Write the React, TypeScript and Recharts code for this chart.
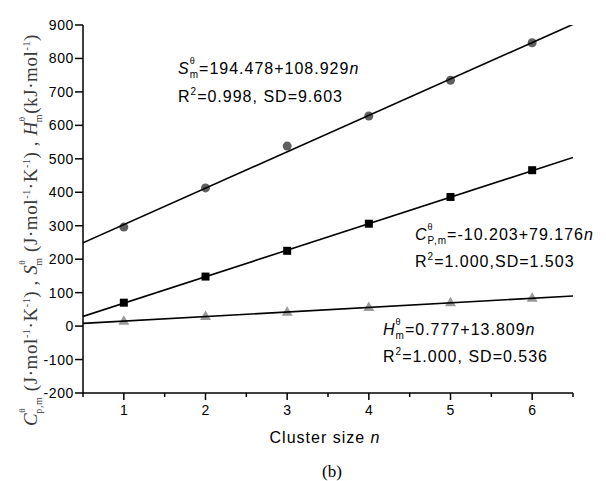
import React from 'react';
import { ComposedChart, Scatter, XAxis, YAxis } from 'recharts';

// cluster size n
const clusterSizes = [1, 2, 3, 4, 5, 6];
// S(θ,m) — grey circles
const entropyValues = [296, 413, 538, 628, 735, 847];
// Cp(θ,m) — black squares
const heatCapValues = [70, 148, 225, 306, 386, 466];
// H(θ,m) — light grey triangles
const enthalpyValues = [16, 30, 43, 57, 71, 85];

// fitted lines, read at both ends of the x range
const fitEnds = [0.5, 6.5];
const entropyFit = [249, 902];
const heatCapFit = [29, 504];
const enthalpyFit = [8, 90];

const xTicks = [0.5, 1, 1.5, 2, 2.5, 3, 3.5, 4, 4.5, 5, 5.5, 6, 6.5];
const yTicks = [-200, -150, -100, -50, 0, 50, 100, 150, 200, 250, 300, 350, 400, 450, 500, 550, 600, 650, 700, 750, 800, 850, 900];

const toPoints = (xs: number[], ys: number[]) => xs.map((n, i) => ({ n, v: ys[i] }));

const SANS = '"Liberation Sans", Arial, sans-serif';
const SERIF = '"Liberation Serif", "Times New Roman", serif';

const YTick = (props: any) => {
    const { x, y, payload } = props;
    const major = payload.value % 100 === 0;
    return (
        <g>
            <line x1={x} y1={y} x2={x - (major ? 8 : 4)} y2={y} stroke="#000" strokeWidth={1.5} />
            {major && (
                <text x={x - 9} y={y + 5} textAnchor="end" fontFamily={SANS} fontSize={14} letterSpacing={0.6} fill="#000">
                    {payload.value}
                </text>
            )}
        </g>
    );
};

const XTick = (props: any) => {
    const { x, y, payload } = props;
    const major = Number.isInteger(payload.value);
    return (
        <g>
            <line x1={x} y1={y} x2={x} y2={y + (major ? 7 : 4)} stroke="#000" strokeWidth={1.5} />
            {major && (
                <text x={x} y={y + 22} textAnchor="middle" fontFamily={SANS} fontSize={14} fill="#000">
                    {payload.value}
                </text>
            )}
        </g>
    );
};

const Circle = ({ cx, cy }: any) => <circle cx={cx} cy={cy} r={4.5} fill="#5f5f5f" />;
const Square = ({ cx, cy }: any) => <rect x={cx - 4} y={cy - 4} width={8} height={8} fill="#000" />;
const Triangle = ({ cx, cy }: any) => (
    <polygon points={`${cx},${cy - 5.5} ${cx - 5.5},${cy + 4} ${cx + 5.5},${cy + 4}`} fill="#9a9a9a" />
);
const NoMark = () => <g />;

const Annotations = () => (
    <svg width={606} height={481} style={{ position: 'absolute', left: 0, top: 0, pointerEvents: 'none' }}>
        {/* S fit */}
        <text x={178} y={74} fontFamily={SANS} fontSize={16} letterSpacing={1} fill="#000">
            <tspan fontStyle="italic">S</tspan>
            <tspan fontSize={9} dy={-10}>θ</tspan>
            <tspan fontSize={10} dx={-6} dy={14}>m</tspan>
            <tspan dy={-4}>=194.478+108.929</tspan>
            <tspan fontStyle="italic">n</tspan>
        </text>
        <text x={178} y={102} fontFamily={SANS} fontSize={16} letterSpacing={1} fill="#000">
            R<tspan fontSize={10} dy={-7}>2</tspan>
            <tspan dy={7}>=0.998, SD=9.603</tspan>
        </text>

        {/* Cp fit */}
        <text x={415} y={240} fontFamily={SANS} fontSize={16} letterSpacing={1} fill="#000">
            <tspan fontStyle="italic">C</tspan>
            <tspan fontSize={9} dy={-10}>θ</tspan>
            <tspan fontSize={10} dx={-6} dy={14}>P,m</tspan>
            <tspan dy={-4}>=-10.203+79.176</tspan>
            <tspan fontStyle="italic">n</tspan>
        </text>
        <text x={415} y={267} fontFamily={SANS} fontSize={16} letterSpacing={1} fill="#000">
            R<tspan fontSize={10} dy={-7}>2</tspan>
            <tspan dy={7}>=1.000,SD=1.503</tspan>
        </text>

        {/* H fit */}
        <text x={383} y={335} fontFamily={SANS} fontSize={16} letterSpacing={1} fill="#000">
            <tspan fontStyle="italic">H</tspan>
            <tspan fontSize={9} dy={-10}>θ</tspan>
            <tspan fontSize={10} dx={-6} dy={14}>m</tspan>
            <tspan dy={-4}>=0.777+13.809</tspan>
            <tspan fontStyle="italic">n</tspan>
        </text>
        <text x={383} y={362} fontFamily={SANS} fontSize={16} letterSpacing={1} fill="#000">
            R<tspan fontSize={10} dy={-7}>2</tspan>
            <tspan dy={7}>=1.000, SD=0.536</tspan>
        </text>

        {/* axis titles */}
        <text x={325} y={443} textAnchor="middle" fontFamily={SANS} fontSize={16} letterSpacing={1} fill="#000">
            Cluster size <tspan fontStyle="italic">n</tspan>
        </text>
        <text x={332} y={477} textAnchor="middle" fontFamily={SERIF} fontSize={17} fill="#000">(b)</text>

        <text transform="translate(37,230) rotate(-90)" textAnchor="middle" fontFamily={SERIF} fontSize={19} letterSpacing={0.6} fill="#3a3a3a">
            <tspan fontStyle="italic">C</tspan>
            <tspan fontSize={9} dy={-12}>θ</tspan>
            <tspan fontSize={10} dx={-6} dy={17}>p,m</tspan>
            <tspan dy={-5}> (J·mol</tspan>
            <tspan fontSize={10} dy={-7}>-1</tspan>
            <tspan dy={7}>·K</tspan>
            <tspan fontSize={10} dy={-7}>-1</tspan>
            <tspan dy={7}>) , </tspan>
            <tspan fontStyle="italic">S</tspan>
            <tspan fontSize={9} dy={-12}>θ</tspan>
            <tspan fontSize={10} dx={-6} dy={17}>m</tspan>
            <tspan dy={-5}> (J·mol</tspan>
            <tspan fontSize={10} dy={-7}>-1</tspan>
            <tspan dy={7}>·K</tspan>
            <tspan fontSize={10} dy={-7}>-1</tspan>
            <tspan dy={7}>) , </tspan>
            <tspan fontStyle="italic">H</tspan>
            <tspan fontSize={9} dy={-12}>θ</tspan>
            <tspan fontSize={10} dx={-6} dy={17}>m</tspan>
            <tspan dy={-5}>(kJ·mol</tspan>
            <tspan fontSize={10} dy={-7}>-1</tspan>
            <tspan dy={7}>)</tspan>
        </text>
    </svg>
);

const App: React.FC = () => {
    return (
        <div style={{ position: 'absolute', left: 0, top: 0, width: 606, height: 481, background: '#fff' }}>
            <ComposedChart width={606} height={481} margin={{ top: 25, right: 33, left: 0, bottom: 0 }}>
                <XAxis
                    type="number"
                    dataKey="n"
                    domain={[0.5, 6.5]}
                    ticks={xTicks}
                    allowDataOverflow
                    height={88}
                    tickSize={0}
                    tickMargin={0}
                    tick={<XTick />}
                    axisLine={{ stroke: '#000', strokeWidth: 1.5 }}
                />
                <YAxis
                    type="number"
                    dataKey="v"
                    domain={[-200, 900]}
                    ticks={yTicks}
                    allowDataOverflow
                    width={83}
                    tickSize={0}
                    tickMargin={0}
                    tick={<YTick />}
                    axisLine={{ stroke: '#000', strokeWidth: 1.5 }}
                />
                <Scatter data={toPoints(clusterSizes, entropyValues)} shape={<Circle />} isAnimationActive={false} />
                <Scatter data={toPoints(clusterSizes, heatCapValues)} shape={<Square />} isAnimationActive={false} />
                <Scatter data={toPoints(clusterSizes, enthalpyValues)} shape={<Triangle />} isAnimationActive={false} />
                <Scatter data={toPoints(fitEnds, entropyFit)} line={{ stroke: '#000', strokeWidth: 1.6 }} shape={<NoMark />} isAnimationActive={false} />
                <Scatter data={toPoints(fitEnds, heatCapFit)} line={{ stroke: '#000', strokeWidth: 1.6 }} shape={<NoMark />} isAnimationActive={false} />
                <Scatter data={toPoints(fitEnds, enthalpyFit)} line={{ stroke: '#000', strokeWidth: 1.6 }} shape={<NoMark />} isAnimationActive={false} />
            </ComposedChart>
            <Annotations />
        </div>
    );
};

export default App;
